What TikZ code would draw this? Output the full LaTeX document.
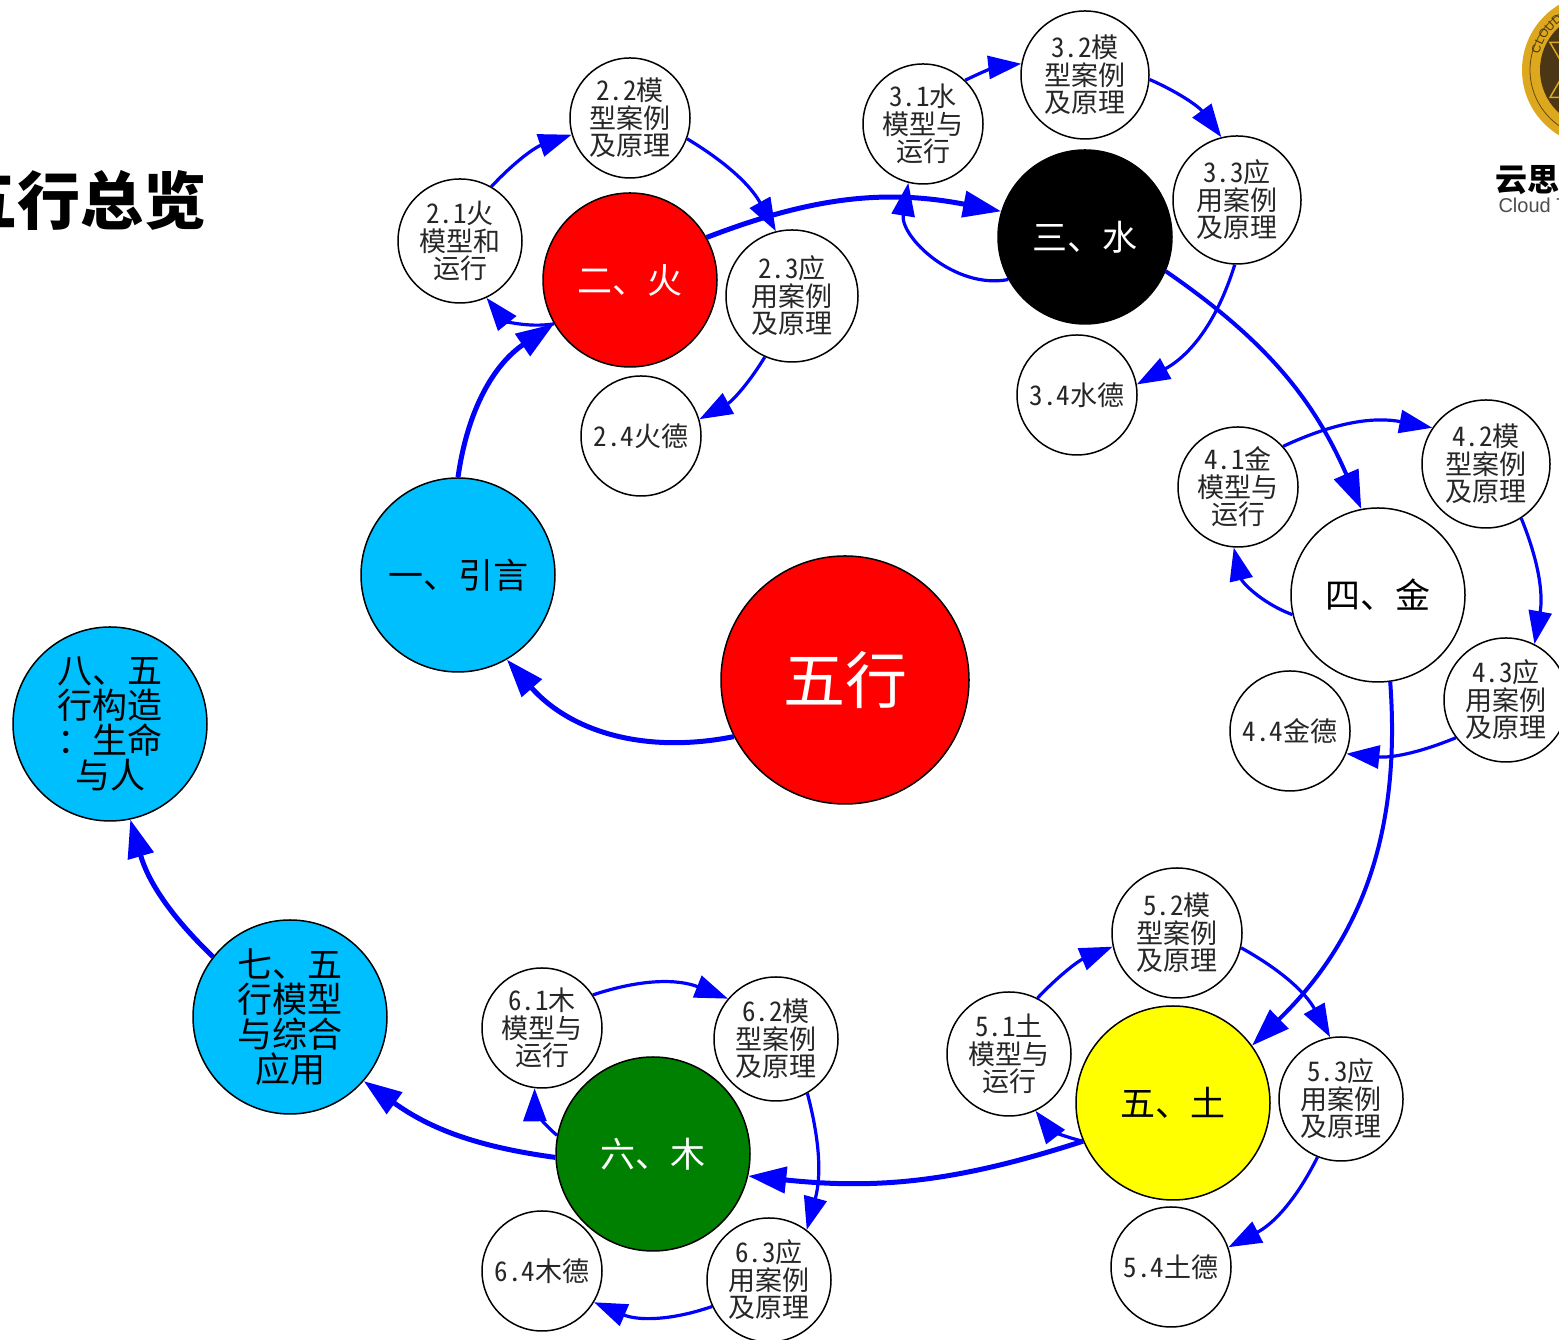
\documentclass[tikz,border=0pt]{standalone}
\usepackage{fontspec}
\setmainfont[RawFeature=+hwid]{Noto Sans CJK SC}
\newfontfamily\logofont{Liberation Sans}
\usetikzlibrary{positioning, arrows.meta, decorations.text}
\definecolor{skynode}{RGB}{0,191,255}
\definecolor{firenode}{RGB}{255,0,0}
\definecolor{earthnode}{RGB}{255,255,0}
\definecolor{woodnode}{RGB}{0,128,0}
\definecolor{edgeblue}{RGB}{0,0,255}
\definecolor{logogold}{HTML}{DDA81E}
\definecolor{logodark}{HTML}{4B3716}

\begin{document}
\begin{tikzpicture}[x=1pt, y=1pt, on grid,
                    hubnode/.style={circle, draw=black, line width=1.5pt, inner sep=0pt, align=center, font=\fontsize{35}{35}\selectfont},
                    bighub/.style={hubnode, minimum size=174pt},
                    roundhub/.style={hubnode, minimum size=194pt},
                    subnode/.style={circle, draw=black, line width=1.5pt, fill=white, inner sep=0pt, align=center, text=black!85, font=\fontsize{27}{27.5}\selectfont},
                    mainedge/.style={draw=edgeblue, line width=5pt, bend left=#1, -{Triangle[length=38pt, width=26pt]}},
                    subedge/.style={draw=edgeblue, line width=3.2pt, bend left=#1, -{Triangle[length=33pt, width=23pt]}},
                ]
                    \useasboundingbox (0,0) rectangle (1559,1340);

                    %Title and logo
                    \node[anchor=east, font=\fontsize{63}{63}\selectfont\bfseries](title) at (210,1140) {五行总览};
                    \fill[logogold] (1598,1270) circle (76);
                    \draw[black!55!logogold, line width=0.8pt] (1598,1270) circle (68);
                    \fill[logodark] (1598,1270) circle (58);
                    \draw[logogold, line width=1.5pt] (1598,1325) -- (1550,1242.5) -- (1646,1242.5) -- cycle;
                    \draw[logogold, line width=1.5pt] (1598,1215) -- (1550,1297.5) -- (1646,1297.5) -- cycle;
                    \path[decorate, decoration={text along path, text={|\logofont\fontsize{12}{12}\selectfont\color{logodark}|CLOUD}}]
                        (1598,1270) ++(165:61) arc[start angle=165, end angle=110, radius=61];
                    \node[anchor=west, font=\fontsize{32}{32}\selectfont\bfseries](logoname) at (1492,1160) {云思};
                    \node[anchor=west, text=black!70, font=\logofont\fontsize{20}{20}\selectfont](logotext) at (1495,1135) {Cloud T};

                    %Nodes
                    \node[circle, draw=black, line width=1.5pt, fill=firenode, text=white, inner sep=0pt, minimum size=248pt, font=\fontsize{62}{62}\selectfont](wuxing) at (845,660) {五行};
                    \node[roundhub, fill=skynode](yinyan)[above left=105pt and 387pt of wuxing] {一、引言};
                    \node[bighub, fill=firenode, text=white](huo)[above right=295pt and 172pt of yinyan] {二、火};
                    \node[bighub, fill=black, text=white](shui)[above right=43pt and 455pt of huo] {三、水};
                    \node[bighub, fill=white](jin)[below right=358pt and 293pt of shui] {四、金};
                    \node[roundhub, fill=earthnode](tu)[below left=508pt and 205pt of jin] {五、土};
                    \node[roundhub, fill=woodnode, text=white](mu)[below left=51pt and 520pt of tu] {六、木};
                    \node[roundhub, fill=skynode](qi)[above left=137pt and 363pt of mu] {七、五\\行模型\\与综合\\应用};
                    \node[roundhub, fill=skynode](ba)[above left=293pt and 180pt of qi] {八、五\\行构造\\：生命\\与人};

                    \node[subnode, minimum size=124pt](huoa)[above left=39pt and 170pt of huo] {2.1火\\模型和\\运行};
                    \node[subnode, minimum size=120pt](huob)[above=162pt of huo] {2.2模\\型案例\\及原理};
                    \node[subnode, minimum size=132pt](huoc)[below right=16pt and 162pt of huo] {2.3应\\用案例\\及原理};
                    \node[subnode, minimum size=120pt](huod)[below right=156pt and 11pt of huo] {2.4火德};

                    \node[subnode, minimum size=120pt](shuia)[above left=113pt and 162pt of shui] {3.1水\\模型与\\运行};
                    \node[subnode, minimum size=128pt](shuib)[above=162pt of shui] {3.2模\\型案例\\及原理};
                    \node[subnode, minimum size=128pt](shuic)[above right=37pt and 152pt of shui] {3.3应\\用案例\\及原理};
                    \node[subnode, minimum size=120pt](shuid)[below left=158pt and 8pt of shui] {3.4水德};

                    \node[subnode, minimum size=120pt](jina)[above left=108pt and 140pt of jin] {4.1金\\模型与\\运行};
                    \node[subnode, minimum size=128pt](jinb)[above right=131pt and 108pt of jin] {4.2模\\型案例\\及原理};
                    \node[subnode, minimum size=124pt](jinc)[below right=105pt and 128pt of jin] {4.3应\\用案例\\及原理};
                    \node[subnode, minimum size=120pt](jind)[below left=136pt and 88pt of jin] {4.4金德};

                    \node[subnode, minimum size=124pt](tua)[above left=49pt and 164pt of tu] {5.1土\\模型与\\运行};
                    \node[subnode, minimum size=130pt](tub)[above right=170pt and 4pt of tu] {5.2模\\型案例\\及原理};
                    \node[subnode, minimum size=124pt](tuc)[above right=4pt and 168pt of tu] {5.3应\\用案例\\及原理};
                    \node[subnode, minimum size=120pt](tud)[below left=164pt and 2pt of tu] {5.4土德};

                    \node[subnode, minimum size=120pt](mua)[above left=126pt and 111pt of mu] {6.1木\\模型与\\运行};
                    \node[subnode, minimum size=124pt](mub)[above right=115pt and 123pt of mu] {6.2模\\型案例\\及原理};
                    \node[subnode, minimum size=124pt](muc)[below right=126pt and 116pt of mu] {6.3应\\用案例\\及原理};
                    \node[subnode, minimum size=120pt](mud)[below left=117pt and 111pt of mu] {6.4木德};

                    %Lines
                    \draw[mainedge=30](wuxing.207) to (yinyan.300);
                    \draw[mainedge=24](yinyan.90) to (huo.210);
                    \draw[mainedge=16](huo.29) to (shui.163);
                    \draw[mainedge=16, line width=4pt](shui.337) to (jin.101);
                    \draw[mainedge=25, line width=4pt](jin.278) to (tu.36);
                    \draw[mainedge=12](tu.203) to (mu.347);
                    \draw[mainedge=14](mu.182) to (qi.319);
                    \draw[mainedge=15](qi.142) to (ba.282);

                    \draw[subedge=30](huo.210) to (huoa.295);
                    \draw[subedge=14](huoa.60) to (huob.196);
                    \draw[subedge=15](huob.340) to (huoc.104);
                    \draw[subedge=15](huoc.246) to (huod.16);

                    \draw[subedge=55](shui.209) to (shuia.256);
                    \draw[subedge=10](shuia.46) to (shuib.170);
                    \draw[subedge=15](shuib.356) to (shuic.104);
                    \draw[subedge=22](shuic.268) to (shuid.10);

                    \draw[subedge=28](jin.193) to (jina.266);
                    \draw[subedge=18](jina.42) to (jinb.146);
                    \draw[subedge=16](jinb.303) to (jinc.63);
                    \draw[subedge=14](jinc.217) to (jind.338);

                    \draw[subedge=20](tu.203) to (tua.295);
                    \draw[subedge=12](tua.63) to (tub.192);
                    \draw[subedge=16](tub.347) to (tuc.100);
                    \draw[subedge=18](tuc.248) to (tud.19);

                    \draw[subedge=25](mu.169) to (mua.263);
                    \draw[subedge=20](mua.33) to (mub.140);
                    \draw[subedge=15](mub.300) to (muc.53);
                    \draw[subedge=21](muc.205) to (mud.329);
                \end{tikzpicture}
\end{document}
